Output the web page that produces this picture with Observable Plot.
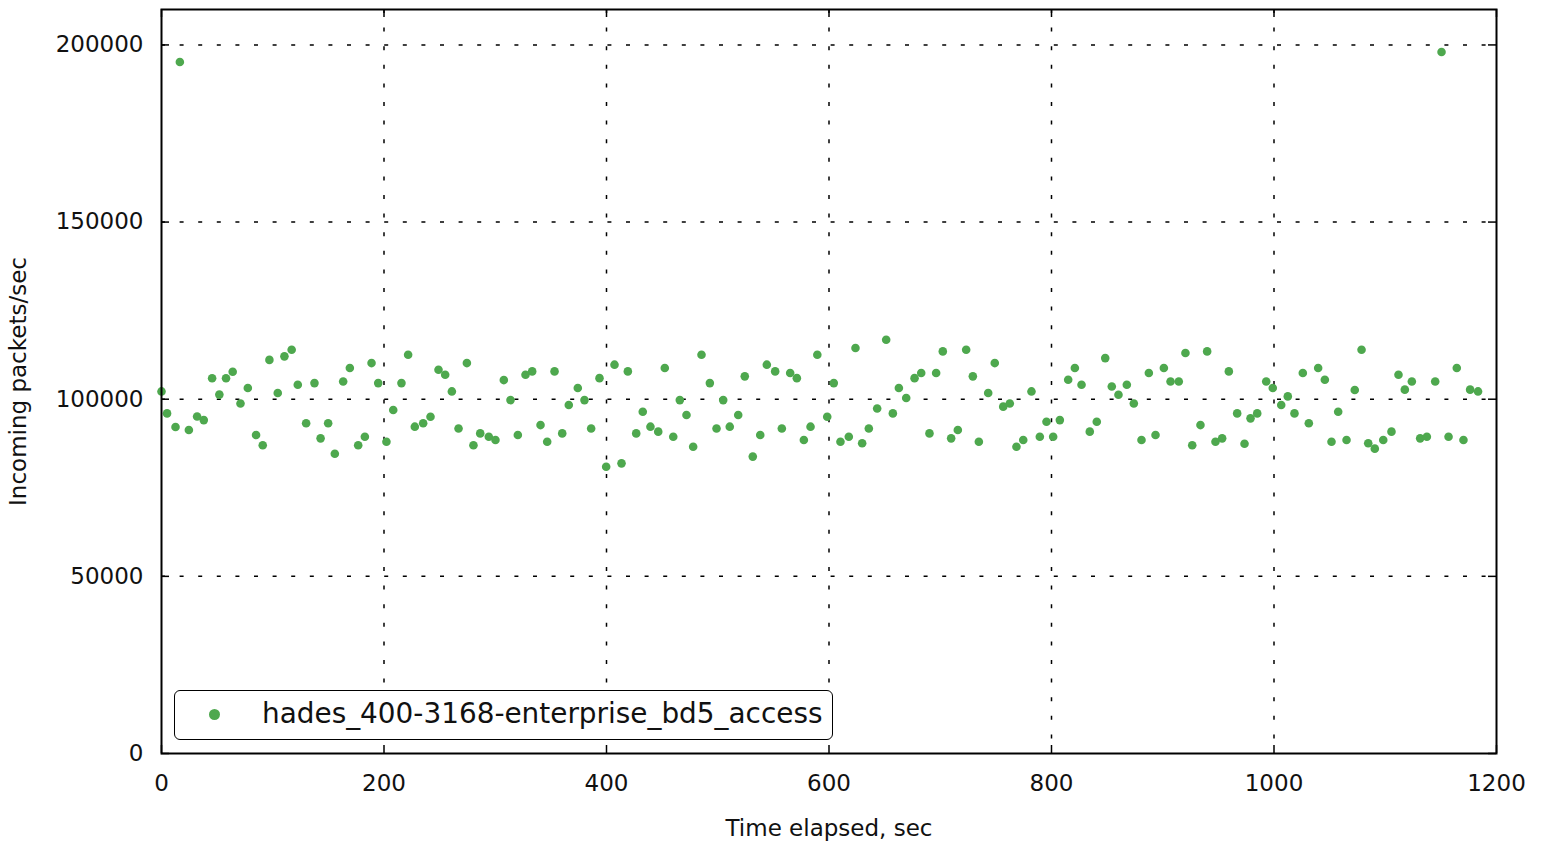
<!DOCTYPE html>
<html>
<head>
<meta charset="utf-8">
<script src="https://cdn.jsdelivr.net/npm/d3@7"></script>
<script src="https://cdn.jsdelivr.net/npm/@observablehq/plot@0.6"></script>
<style>
  html, body { margin: 0; padding: 0; background: white; }
  #wrap { position: relative; width: 1544px; height: 849px; font-family: "DejaVu Sans", sans-serif; }
  #legend { position: absolute; left: 174px; top: 690px; width: 657px; height: 48px;
    border: 1.5px solid black; border-radius: 6px; background: white; box-sizing: content-box; }
  #legend .sw { position: absolute; left: 34px; top: 18px; width: 11px; height: 11px; border-radius: 50%; background: #4ea84e; }
  #legend .lb { position: absolute; left: 87px; top: 7px; font-size: 27.9px; line-height: 32px; color: #111; white-space: nowrap; }
</style>
</head>
<body>
<div id="wrap"></div>
<script>
const seriesName = "hades_400-3168-enterprise_bd5_access";
const xLabel = "Time elapsed, sec";
const yLabel = "Incoming packets/sec";
const xTicks = [0, 200, 400, 600, 800, 1000, 1200];
const yTicks = [0, 50000, 100000, 150000, 200000];

const times = [0, 5, 12.6, 16.5, 24.6, 32, 38, 45.5, 52, 58, 64, 71, 77.6, 85, 91, 97, 104.5, 110.5, 117, 122.5,
  130, 137.5, 143, 149.8, 155.8, 163.3, 169.3, 176.8, 182.8, 188.8, 194.8, 202.2, 208.3, 215.7, 221.7, 227.7, 235.2, 241.8, 249, 255,
  261, 267, 274.5, 280.4, 286.5, 294.2, 300.2, 307.7, 313.7, 320.3, 327.2, 333.2, 340.7, 346.7, 353.3, 360.2, 366.1, 374.2, 380.2, 386.2,
  393.7, 399.7, 407.2, 413.5, 419.2, 426.7, 432.6, 439.5, 446.5, 452.4, 460, 465.9, 471.9, 477.9, 485.4, 492.9, 498.9, 504.9, 510.8, 518.4,
  524.3, 531.5, 538.2, 544.1, 551.6, 557.6, 565.1, 571.1, 577.4, 583.4, 589.5, 598.4, 604.3, 610.3, 617.8, 623.8, 629.8, 635.8, 643.3, 651.4,
  657.4, 662.8, 669.4, 676.9, 682.9, 690.3, 696.3, 702.3, 709.8, 715.8, 723.3, 729.3, 734.7, 743.1, 749, 756.6, 762.5, 768.5, 774.6, 782,
  789.5, 795.5, 801.5, 807.5, 815, 821, 827, 834.4, 840.7, 848.3, 854.2, 860.2, 867.7, 874, 880.9, 887.5, 893.5, 901, 907, 914.4,
  920.4, 926.5, 933.9, 939.9, 947.4, 953.4, 959.4, 966.9, 973.5, 978.9, 984.9, 993, 998.9, 1006.5, 1012.4, 1018.4, 1025.9, 1031.3, 1039.7, 1045.7,
  1051.7, 1057.7, 1065.2, 1072.6, 1078.7, 1084.7, 1090.6, 1098.2, 1105.6, 1111.9, 1117.6, 1123.9, 1131.4, 1137.4, 1144.9, 1150.6, 1156.9, 1164.3, 1170.3, 1176.3,
  1183.4];
const packets = [102200, 96000, 92150, 195200, 91300, 95100, 94100, 105900, 101300, 105900, 107750, 98800, 103150, 89900, 87000, 111100, 101750, 112100, 113950, 104100,
  93200, 104550, 88950, 93200, 84600, 105000, 108800, 87000, 89400, 110200, 104550, 88000, 96950, 104550, 112550, 92250, 93200, 95050, 108300, 106900,
  102200, 91750, 110200, 87000, 90350, 89400, 88500, 105400, 99750, 89900, 106900, 107850, 92700, 88000, 107850, 90350, 98350, 103150, 99750, 91750,
  105950, 80950, 109750, 81900, 107850, 90350, 96450, 92250, 90850, 108800, 89400, 99750, 95550, 86600, 112550, 104550, 91750, 99750, 92250, 95550,
  106450, 83800, 89900, 109750, 107850, 91750, 107400, 105950, 88500, 92250, 112550, 95050, 104550, 88000, 89400, 114450, 87550, 91750, 97400, 116800,
  96000, 103150, 100350, 105950, 107400, 90350, 107400, 113500, 88950, 91300, 113950, 106450, 88000, 101750, 110200, 97900, 98800, 86600, 88500, 102200,
  89400, 93650, 89400, 94100, 105500, 108800, 104100, 90850, 93650, 111600, 103600, 101250, 104100, 98800, 88500, 107400, 89900, 108800, 105000, 105000,
  113050, 87000, 92700, 113500, 88000, 88950, 107850, 96000, 87450, 94600, 96000, 105000, 103150, 98350, 100800, 96000, 107400, 93200, 108800, 105500,
  88000, 96450, 88500, 102600, 113950, 87550, 86050, 88500, 90850, 106900, 102700, 105000, 88950, 89400, 105000, 198000, 89400, 108800, 88500, 102700,
  102200];

const data = times.map((t, i) => ({t, v: packets[i]}));
const green = "#4ea84e";
const frameH = 849 - 9 - 96;
const frameW = 1544 - 161 - 48;
const tickLen = 8;

const chart = Plot.plot({
  width: 1544,
  height: 849,
  marginLeft: 161,
  marginRight: 48,
  marginTop: 9,
  marginBottom: 96,
  x: {domain: [0, 1200]},
  y: {domain: [0, 210000]},
  style: {fontFamily: "DejaVu Sans", fontSize: "23px", color: "#111", background: "white"},
  marks: [
    Plot.ruleX(xTicks.slice(1, -1), {stroke: "black", strokeWidth: 1.5, strokeDasharray: "4,14.6"}),
    Plot.ruleY(yTicks.slice(1), {stroke: "black", strokeWidth: 1.5, strokeDasharray: "4,14.6"}),
    Plot.tickX(xTicks, {stroke: "black", strokeWidth: 1.5, insetTop: frameH - tickLen}),
    Plot.tickX(xTicks, {stroke: "black", strokeWidth: 1.5, insetBottom: frameH - tickLen}),
    Plot.tickY(yTicks, {stroke: "black", strokeWidth: 1.5, insetRight: frameW - tickLen}),
    Plot.tickY(yTicks, {stroke: "black", strokeWidth: 1.5, insetLeft: frameW - tickLen}),
    Plot.dot(data, {x: "t", y: "v", r: 4.3, fill: green, stroke: "none"}),
    Plot.frame({stroke: "black", strokeWidth: 2}),
    Plot.axisX(xTicks, {tickSize: 0, tickPadding: 21, tickFormat: d => String(d),
      label: xLabel, labelAnchor: "center", labelArrow: "none", labelOffset: 82}),
    Plot.axisY(yTicks, {tickSize: 0, tickPadding: 18, tickFormat: d => String(d),
      label: yLabel, labelAnchor: "center", labelArrow: "none", labelOffset: 152})
  ]
});

const wrap = document.getElementById("wrap");
wrap.appendChild(chart);
const legend = document.createElement("div");
legend.id = "legend";
legend.innerHTML = `<div class="sw"></div><div class="lb"></div>`;
legend.querySelector(".lb").textContent = seriesName;
wrap.appendChild(legend);
</script>
</body>
</html>
